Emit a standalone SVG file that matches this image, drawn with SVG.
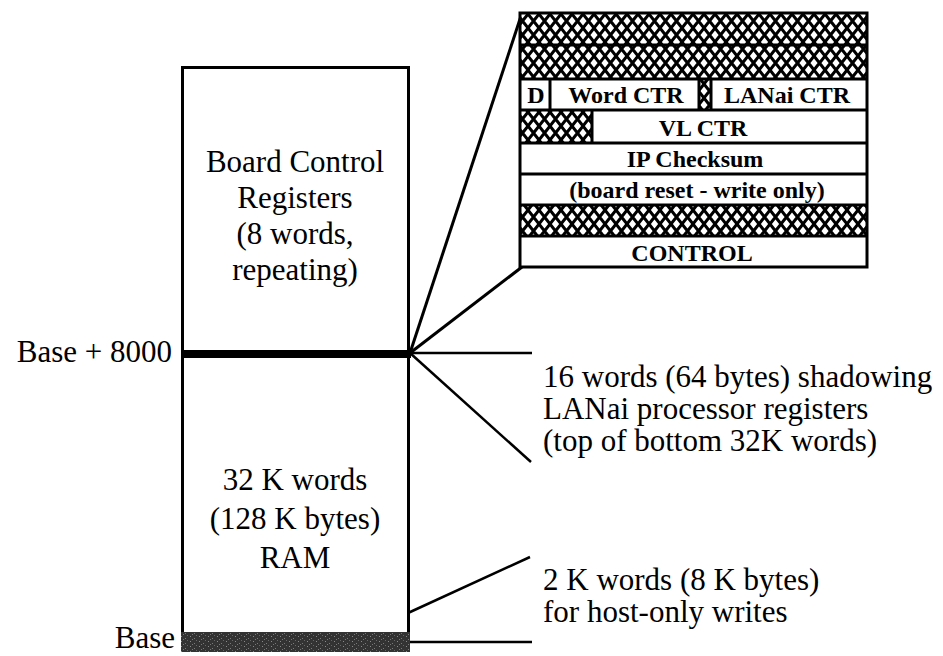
<svg xmlns="http://www.w3.org/2000/svg" width="943" height="656" viewBox="0 0 943 656">
<style>
.t{font-family:"Liberation Serif","Times New Roman",serif;font-size:31px;fill:#000}
.tb{font-family:"Liberation Serif","Times New Roman",serif;font-size:24px;font-weight:bold;fill:#000}
.c{text-anchor:middle}
.e{text-anchor:end}
.ln{stroke:#000;stroke-width:3;fill:none}
.thin{stroke:#000;stroke-width:2.5;fill:none}
</style>
<defs>
<pattern id="hatch" patternUnits="userSpaceOnUse" width="11" height="14">
<rect width="11" height="14" fill="#fff"/>
<path d="M-5.5,-7 L16.5,21 M16.5,-7 L-5.5,21" stroke="#000" stroke-width="3"/>
</pattern>
<pattern id="grain" patternUnits="userSpaceOnUse" width="9" height="5">
<rect width="9" height="5" fill="#333"/>
<rect x="1" y="1" width="1" height="1" fill="#8a8a8a"/>
<rect x="5" y="3" width="1" height="1" fill="#7a7a7a"/>
<rect x="7" y="0" width="1" height="1" fill="#666"/>
<rect x="3" y="4" width="1" height="1" fill="#777"/>
</pattern>
</defs>
<rect width="943" height="656" fill="#fff"/>

<g id="connectors">
<line class="ln" x1="410" y1="353" x2="522" y2="13"/>
<line class="ln" x1="410" y1="353" x2="522" y2="267"/>
<line class="thin" x1="410" y1="353" x2="532" y2="353"/>
<line class="thin" x1="410" y1="353" x2="531" y2="462"/>
<line class="thin" x1="408" y1="613" x2="530" y2="557"/>
<line class="thin" x1="410" y1="642" x2="532" y2="642"/>
</g>

<g id="memory-box">
<rect x="182.5" y="67.5" width="226" height="576" fill="#fff" stroke="#000" stroke-width="3"/>
<rect x="181" y="632" width="229" height="20" fill="url(#grain)"/>
<line x1="181" y1="354" x2="411" y2="354" stroke="#000" stroke-width="8"/>
<text class="t c" x="295" y="172">Board Control</text>
<text class="t c" x="295" y="208">Registers</text>
<text class="t c" x="295" y="244">(8 words,</text>
<text class="t c" x="295" y="280">repeating)</text>
<text class="t c" x="295" y="490">32 K words</text>
<text class="t c" x="295" y="529">(128 K bytes)</text>
<text class="t c" x="295" y="568">RAM</text>
</g>

<g id="address-labels">
<text class="t e" x="172" y="362">Base + 8000</text>
<text class="t e" x="175" y="648">Base</text>
</g>

<g id="register-table">
<rect x="520" y="13" width="347" height="254" fill="#fff"/>
<rect x="520" y="13" width="347" height="66" fill="url(#hatch)"/>
<rect x="699" y="79" width="12" height="31" fill="url(#hatch)"/>
<rect x="520" y="110" width="72" height="33" fill="url(#hatch)"/>
<rect x="520" y="205" width="347" height="31" fill="url(#hatch)"/>
<rect class="ln" x="520" y="13" width="347" height="254"/>
<path class="ln" d="M520,45H867 M520,79H867 M520,110H867 M520,143H867 M520,174H867 M520,205H867 M520,236H867 M550,79V110 M699,79V110 M711,79V110 M592,110V143"/>
<text class="tb c" x="536" y="103">D</text>
<text class="tb c" x="626" y="103">Word CTR</text>
<text class="tb c" x="787" y="103">LANai CTR</text>
<text class="tb c" x="703" y="136">VL CTR</text>
<text class="tb c" x="695" y="167">IP Checksum</text>
<text class="tb c" x="697" y="198">(board reset - write only)</text>
<text class="tb c" x="692" y="261">CONTROL</text>
</g>

<g id="range-labels">
<text class="t" x="543" y="387">16 words (64 bytes) shadowing</text>
<text class="t" x="543" y="419">LANai processor registers</text>
<text class="t" x="543" y="451">(top of bottom 32K words)</text>
<text class="t" x="543" y="590">2 K words (8 K bytes)</text>
<text class="t" x="543" y="622">for host-only writes</text>
</g>
</svg>
